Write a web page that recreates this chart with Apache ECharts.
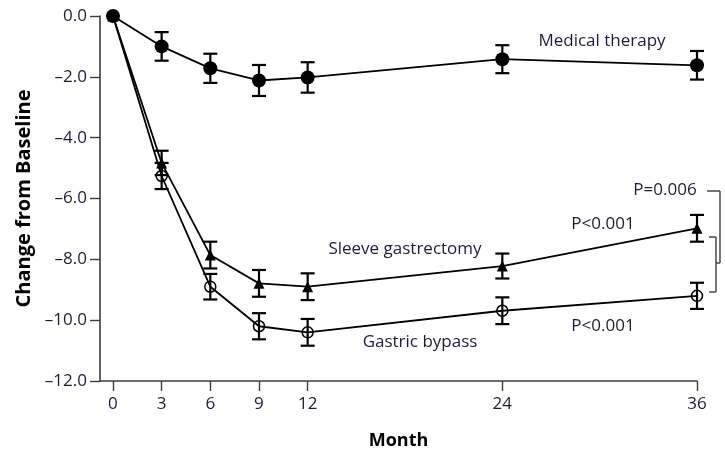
<!DOCTYPE html>
<html>
<head>
<meta charset="utf-8">
<script src="https://cdn.jsdelivr.net/npm/echarts@6/dist/echarts.min.js"></script>
<style>
  html, body { margin: 0; padding: 0; background: #fff; }
  #chart { width: 725px; height: 455px; }
</style>
</head>
<body>
<div id="chart"></div>
<script>
// Months of follow-up
const months = [0, 3, 6, 9, 12, 24, 36];

// Mean change from baseline, by treatment group
const medicalMean = [0.0, -1.0, -1.72, -2.12, -2.02, -1.42, -1.62];
const sleeveMean  = [0.0, -4.83, -7.86, -8.79, -8.90, -8.22, -6.98];
const bypassMean  = [0.0, -5.26, -8.90, -10.20, -10.40, -9.69, -9.20];

// Half-width of the error bars at each visit (no bar at baseline)
const medicalErr = [0, 0.47, 0.48, 0.51, 0.50, 0.46, 0.47];
const sleeveErr  = [0, 0.40, 0.44, 0.44, 0.44, 0.41, 0.44];
const bypassErr  = [0, 0.43, 0.42, 0.43, 0.44, 0.44, 0.43];

const textColor = '#1c1c3a';
const font = "'Open Sans', 'Noto Sans', sans-serif";

const pts = (vals) => months.map((m, i) => [m, vals[i]]);
const errData = (vals, errs) => months
  .map((m, i) => [m, vals[i] - errs[i], vals[i] + errs[i]])
  .filter((d, i) => errs[i] > 0);

function errorBar(params, api) {
  const x = api.value(0);
  const lo = api.coord([x, api.value(1)]);
  const hi = api.coord([x, api.value(2)]);
  const cap = 7;
  const style = { stroke: '#000', lineWidth: 2.2 };
  return {
    type: 'group',
    children: [
      { type: 'line', shape: { x1: lo[0], y1: lo[1], x2: hi[0], y2: hi[1] }, style },
      { type: 'line', shape: { x1: lo[0] - cap, y1: lo[1], x2: lo[0] + cap, y2: lo[1] }, style },
      { type: 'line', shape: { x1: hi[0] - cap, y1: hi[1], x2: hi[0] + cap, y2: hi[1] }, style }
    ]
  };
}

const chart = echarts.init(document.getElementById('chart'), null, { renderer: 'canvas' });

const lineBase = {
  type: 'line',
  lineStyle: { color: '#000', width: 1.8 },
  animation: false,
  z: 3
};

chart.setOption({
  backgroundColor: '#fff',
  animation: false,
  grid: { left: 100, right: 28, top: 16, bottom: 74, containLabel: false },
  xAxis: {
    type: 'value',
    min: -0.8,
    max: 36,
    name: 'Month',
    nameLocation: 'middle',
    nameGap: 51,
    nameTextStyle: { fontFamily: font, fontWeight: 'bold', fontSize: 18, color: '#000' },
    splitLine: { show: false },
    axisLine: { show: true, onZero: false, lineStyle: { color: '#3c3c3c', width: 1.6 } },
    axisTick: { show: true, customValues: months, length: 10, lineStyle: { color: '#3c3c3c', width: 1.4 } },
    axisLabel: { customValues: months, margin: 15, fontFamily: font, fontSize: 17, color: textColor }
  },
  yAxis: {
    type: 'value',
    min: -12,
    max: 0,
    interval: 2,
    name: 'Change from Baseline',
    nameLocation: 'middle',
    nameRotate: 90,
    nameGap: 54,
    nameTextStyle: { fontFamily: font, fontWeight: 'bold', fontSize: 20, color: '#000' },
    splitLine: { show: false },
    axisLine: { show: true, onZero: false, lineStyle: { color: '#3c3c3c', width: 1.6 } },
    axisTick: { show: true, length: 10, lineStyle: { color: '#3c3c3c', width: 1.4 } },
    axisLabel: {
      margin: 13,
      fontFamily: font,
      fontSize: 17,
      color: textColor,
      formatter: (v) => (v < 0 ? '\u2013' + Math.abs(v).toFixed(1) : v.toFixed(1))
    }
  },
  series: [
    Object.assign({}, lineBase, {
      name: 'Medical therapy',
      data: pts(medicalMean),
      symbol: 'circle',
      symbolSize: 14,
      itemStyle: { color: '#000' }
    }),
    Object.assign({}, lineBase, {
      name: 'Sleeve gastrectomy',
      data: pts(sleeveMean),
      symbol: 'triangle',
      symbolSize: 11,
      itemStyle: { color: '#000' }
    }),
    Object.assign({}, lineBase, {
      name: 'Gastric bypass',
      data: pts(bypassMean),
      symbol: 'circle',
      symbolSize: 11,
      itemStyle: { color: 'rgba(255,255,255,0)', borderColor: '#000', borderWidth: 1.5 }
    }),
    { type: 'custom', renderItem: errorBar, data: errData(medicalMean, medicalErr), z: 4, animation: false },
    { type: 'custom', renderItem: errorBar, data: errData(sleeveMean, sleeveErr), z: 4, animation: false },
    { type: 'custom', renderItem: errorBar, data: errData(bypassMean, bypassErr), z: 4, animation: false }
  ]
});

// Group labels, P values and the comparison brackets at 36 months
const label = (text, x, y) => ({
  type: 'text', x, y, z: 10,
  style: { text, align: 'center', verticalAlign: 'middle', fontFamily: font, fontSize: 17, fill: textColor }
});
const seg = (x1, y1, x2, y2) => ({
  type: 'line', z: 10,
  shape: { x1, y1, x2, y2 },
  style: { stroke: '#3c3c3c', lineWidth: 1.4 }
});

chart.setOption({
  graphic: [
    label('Medical therapy', 602, 41),
    label('Sleeve gastrectomy', 405, 249),
    label('Gastric bypass', 420, 342),
    label('P<0.001', 603, 224),
    label('P<0.001', 603, 326),
    label('P=0.006', 665, 190),
    // outer bracket
    seg(707, 191, 720, 191),
    seg(720, 191, 720, 263),
    seg(716, 263, 720, 263),
    // inner bracket
    seg(709, 237, 716, 237),
    seg(716, 237, 716, 292),
    seg(709, 292, 716, 292)
  ]
});
</script>
</body>
</html>
